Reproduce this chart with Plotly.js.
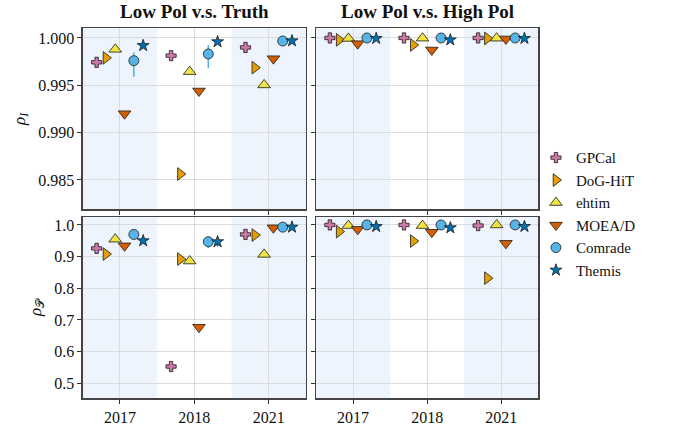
<!DOCTYPE html>
<html>
<head>
<meta charset="utf-8">
<script src="https://cdn.plot.ly/plotly-3.0.1.min.js"></script>
<style>html,body{margin:0;padding:0;background:#fff;}#chart{width:681px;height:427px;}</style>
</head>
<body>
<div id="chart"></div>
<script>
// Categories (epochs)
const categories = ['2017', '2018', '2021'];
const methods = ['GPCal', 'DoG-HiT', 'ehtim', 'MOEA/D', 'Comrade', 'Themis'];
const panelTitles = ['Low Pol v.s. Truth', 'Low Pol v.s. High Pol'];

// rho_I, Low Pol vs Truth (per method: 2017, 2018, 2021)
const rhoI_truth_GPCal   = [0.99743, 0.99813, 0.99900];
const rhoI_truth_DoGHiT  = [0.99790, 0.98563, 0.99686];
const rhoI_truth_ehtim   = [0.99880, 0.99644, 0.99504];
const rhoI_truth_MOEAD   = [0.99200, 0.99440, 0.99781];
const rhoI_truth_Comrade = [0.99760, 0.99831, 0.99968];
const rhoI_truth_Themis  = [0.99920, 0.99960, 0.99970];
const rhoI_truth_Comrade_errPlus  = [0.0009, 0.00095, 0];
const rhoI_truth_Comrade_errMinus = [0.0017, 0.0015, 0];

// rho_I, Low Pol vs High Pol
const rhoI_high_GPCal   = [1.00000, 1.00000, 1.00000];
const rhoI_high_DoGHiT  = [0.99980, 0.99926, 0.99995];
const rhoI_high_ehtim   = [0.99995, 0.99998, 0.99998];
const rhoI_high_MOEAD   = [0.99940, 0.99873, 0.99990];
const rhoI_high_Comrade = [1.00000, 1.00000, 1.00000];
const rhoI_high_Themis  = [0.99995, 0.99980, 0.99995];

// rho_P, Low Pol vs Truth
const rhoP_truth_GPCal   = [0.926, 0.553, 0.970];
const rhoP_truth_DoGHiT  = [0.908, 0.892, 0.968];
const rhoP_truth_ehtim   = [0.955, 0.886, 0.907];
const rhoP_truth_MOEAD   = [0.934, 0.677, 0.991];
const rhoP_truth_Comrade = [0.970, 0.947, 0.993];
const rhoP_truth_Themis  = [0.950, 0.947, 0.993];
const rhoP_truth_Comrade_errMinus = [0, 0.02, 0];
const rhoP_truth_Themis_errMinus  = [0, 0.015, 0];

// rho_P, Low Pol vs High Pol
const rhoP_high_GPCal   = [1.000, 1.000, 0.998];
const rhoP_high_DoGHiT  = [0.979, 0.949, 0.832];
const rhoP_high_ehtim   = [0.998, 0.998, 1.000];
const rhoP_high_MOEAD   = [0.986, 0.977, 0.942];
const rhoP_high_Comrade = [1.000, 1.000, 1.000];
const rhoP_high_Themis  = [0.995, 0.991, 0.995];

const colors  = ['#CC79A7', '#E69F00', '#F0E442', '#D55E00', '#56B4E9', '#0072B2'];
const symbols = ['cross', 'triangle-right', 'triangle-up', 'triangle-down', 'circle', 'star'];
const sizes   = [8.5, 11, 11, 11, 10, 9];

const panels = [
  {xa: 'x',  ya: 'y',  data: [rhoI_truth_GPCal, rhoI_truth_DoGHiT, rhoI_truth_ehtim, rhoI_truth_MOEAD, rhoI_truth_Comrade, rhoI_truth_Themis],
   errP: {4: rhoI_truth_Comrade_errPlus}, errM: {4: rhoI_truth_Comrade_errMinus}, legend: true},
  {xa: 'x2', ya: 'y2', data: [rhoI_high_GPCal, rhoI_high_DoGHiT, rhoI_high_ehtim, rhoI_high_MOEAD, rhoI_high_Comrade, rhoI_high_Themis],
   errP: {}, errM: {}, legend: false},
  {xa: 'x3', ya: 'y3', data: [rhoP_truth_GPCal, rhoP_truth_DoGHiT, rhoP_truth_ehtim, rhoP_truth_MOEAD, rhoP_truth_Comrade, rhoP_truth_Themis],
   errP: {}, errM: {4: rhoP_truth_Comrade_errMinus, 5: rhoP_truth_Themis_errMinus}, legend: false},
  {xa: 'x4', ya: 'y4', data: [rhoP_high_GPCal, rhoP_high_DoGHiT, rhoP_high_ehtim, rhoP_high_MOEAD, rhoP_high_Comrade, rhoP_high_Themis],
   errP: {}, errM: {}, legend: false}
];

const offsetStep = 0.125;
const traces = [];
panels.forEach(p => {
  p.data.forEach((vals, j) => {
    const xs = categories.map((c, i) => i + (j - 2.5) * offsetStep);
    const t = {
      type: 'scatter', mode: 'markers',
      x: xs, y: vals, xaxis: p.xa, yaxis: p.ya,
      name: methods[j], legendgroup: methods[j], showlegend: p.legend,
      marker: {symbol: symbols[j], size: sizes[j], color: colors[j], line: {color: '#1a1a1a', width: 0.8}},
      cliponaxis: false,
      hoverinfo: 'skip'
    };
    if (p.errP[j] || p.errM[j]) {
      const zeros = categories.map(() => 0);
      t.error_y = {type: 'data', symmetric: false,
        array: p.errP[j] || zeros, arrayminus: p.errM[j] || zeros,
        color: colors[j], thickness: 1.6, width: 0};
    }
    traces.push(t);
  });
});

const FONT = "'Liberation Serif', 'DejaVu Serif', serif";
const tickvals = categories.map((c, i) => i);
function xax(domain, anchor, labels) {
  return {domain: domain, anchor: anchor, range: [-0.5, 2.5], tickvals: tickvals, ticktext: categories,
    showticklabels: labels, ticks: 'outside', ticklen: 4, tickcolor: '#333', tickwidth: 1,
    showline: true, mirror: true, linecolor: '#444', linewidth: 1.2,
    showgrid: true, gridcolor: '#dcdcdc', gridwidth: 1, zeroline: false,
    tickfont: {family: FONT, size: 16, color: '#111'}};
}
function yax(domain, anchor, range, dtick, fmt, labels, title) {
  const a = {domain: domain, anchor: anchor, range: range, dtick: dtick, tick0: 0, tickformat: fmt,
    showticklabels: labels, ticks: 'outside', ticklen: 4, tickcolor: '#333', tickwidth: 1,
    showline: true, mirror: true, linecolor: '#444', linewidth: 1.2,
    showgrid: true, gridcolor: '#dcdcdc', gridwidth: 1, zeroline: false,
    tickfont: {family: FONT, size: 16, color: '#111'}};
  if (title) a.title = {text: title, font: {family: FONT, size: 17, color: '#111'}, standoff: 8};
  return a;
}

const xL = [0.1214, 0.4493], xR = [0.4640, 0.7905];
const yT = [0.5098, 0.9337], yB = [0.0672, 0.4925];
const rangeI = [0.98190, 1.00102];
const rangeP = [0.4526, 1.026];

const shapes = [];
['x', 'x2', 'x3', 'x4'].forEach((xa, k) => {
  const ya = ['y', 'y2', 'y3', 'y4'][k];
  [0, 2].forEach(ci => {
    shapes.push({type: 'rect', xref: xa, yref: ya + ' domain', x0: ci - 0.5, x1: ci + 0.5, y0: 0, y1: 1,
      fillcolor: '#eef4fd', line: {width: 0}, layer: 'below'});
  });
});

const layout = {
  width: 681, height: 427,
  margin: {l: 0, r: 0, t: 0, b: 0},
  paper_bgcolor: '#ffffff', plot_bgcolor: 'rgba(0,0,0,0)',
  font: {family: FONT, size: 16, color: '#111'},
  xaxis:  xax(xL, 'y', false),
  xaxis2: xax(xR, 'y2', false),
  xaxis3: xax(xL, 'y3', true),
  xaxis4: xax(xR, 'y4', true),
  yaxis:  yax(yT, 'x', rangeI, 0.005, '.3f', true, '<i>ρ</i><sub><i>I</i></sub>'),
  yaxis2: yax(yT, 'x2', rangeI, 0.005, '.3f', false, null),
  yaxis3: yax(yB, 'x3', rangeP, 0.1, '.1f', true, '<i>ρ</i><sub>𝒫</sub>'),
  yaxis4: yax(yB, 'x4', rangeP, 0.1, '.1f', false, null),
  shapes: shapes,
  showlegend: true,
  legend: {x: 0.787, y: 0.669, xanchor: 'left', yanchor: 'top', bgcolor: 'rgba(0,0,0,0)',
    font: {family: FONT, size: 15, color: '#111'}, tracegroupgap: 0, itemsizing: 'trace',
    itemwidth: 30},
  annotations: [
    {text: '<b>' + panelTitles[0] + '</b>', xref: 'paper', yref: 'paper', x: (xL[0] + xL[1]) / 2, y: 0.972,
     xanchor: 'center', yanchor: 'middle', showarrow: false, font: {family: FONT, size: 19, color: '#111'}},
    {text: '<b>' + panelTitles[1] + '</b>', xref: 'paper', yref: 'paper', x: (xR[0] + xR[1]) / 2, y: 0.972,
     xanchor: 'center', yanchor: 'middle', showarrow: false, font: {family: FONT, size: 19, color: '#111'}}
  ]
};

Plotly.newPlot('chart', traces, layout, {displayModeBar: false, staticPlot: true});
</script>
</body>
</html>
